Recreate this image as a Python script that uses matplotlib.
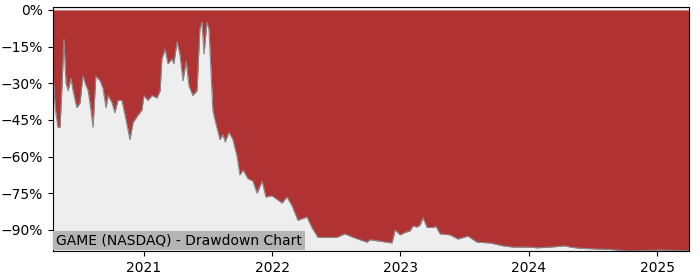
import numpy as np
import pandas as pd
import matplotlib
matplotlib.use("Agg")
import matplotlib.pyplot as plt
import matplotlib.dates as mdates
from matplotlib.ticker import PercentFormatter

# Drawdown readings (percent below running peak)
dates = [
    "2020-04-17", "2020-04-23", "2020-05-01", "2020-05-07", "2020-05-13", "2020-05-18",
    "2020-05-24", "2020-05-30", "2020-06-07", "2020-06-13", "2020-06-19", "2020-06-24",
    "2020-07-03", "2020-07-11", "2020-07-20", "2020-07-26", "2020-08-03", "2020-08-09",
    "2020-08-17", "2020-08-29", "2020-09-06", "2020-09-15", "2020-09-21", "2020-10-02",
    "2020-10-10", "2020-10-19", "2020-10-30", "2020-11-08", "2020-11-22", "2020-12-01",
    "2020-12-15", "2020-12-26", "2021-01-01", "2021-01-12", "2021-01-24", "2021-02-07",
    "2021-02-16", "2021-02-21", "2021-03-02", "2021-03-10", "2021-03-22", "2021-03-27",
    "2021-04-05", "2021-04-13", "2021-04-22", "2021-05-01", "2021-05-09", "2021-05-20",
    "2021-06-01", "2021-06-09", "2021-06-15", "2021-06-21", "2021-06-29", "2021-07-05",
    "2021-07-16", "2021-07-22", "2021-07-31", "2021-08-05", "2021-08-14", "2021-08-20",
    "2021-08-31", "2021-09-11", "2021-09-23", "2021-10-01", "2021-10-10", "2021-10-24",
    "2021-11-07", "2021-11-19", "2021-12-03", "2021-12-14", "2021-12-31", "2022-01-17",
    "2022-01-29", "2022-02-12", "2022-02-26", "2022-03-15", "2022-04-10", "2022-04-24",
    "2022-05-11", "2022-06-06", "2022-07-04", "2022-07-27", "2022-08-19", "2022-09-28",
    "2022-10-06", "2022-12-08", "2022-12-17", "2022-12-31", "2023-01-14", "2023-01-28",
    "2023-02-06", "2023-02-17", "2023-02-26", "2023-03-06", "2023-03-18", "2023-04-04",
    "2023-04-12", "2023-04-24", "2023-05-22", "2023-06-14", "2023-07-12", "2023-08-07",
    "2023-09-13", "2023-10-20", "2023-11-18", "2024-01-05", "2024-01-25", "2024-03-02",
    "2024-04-14", "2024-04-28", "2024-05-26", "2024-08-20", "2024-10-16", "2025-01-09",
    "2025-04-01",
]
drawdown = [
    -26, -40, -48, -48, -30, -12,
    -30, -33, -28, -33, -37, -40,
    -38, -27, -31, -33, -41, -48,
    -27, -29, -32, -40, -35, -38,
    -42, -37, -37, -43, -53, -46,
    -43, -41, -35, -37, -35, -36,
    -33, -20, -16, -22, -20, -22,
    -13, -18, -29, -21, -31, -35,
    -33, -8, -5, -18, -5, -8,
    -41, -45, -50, -53, -51, -54,
    -50, -53, -60, -67.5, -65.5, -69,
    -70, -75, -70, -76.5, -76, -77.7,
    -79, -76.5, -80, -86, -84.7, -89,
    -93, -93, -93, -91.6, -93, -95,
    -94, -95.3, -90, -92, -91, -90.4,
    -88.4, -88.8, -88, -85, -89, -89,
    -88.5, -91.6, -92, -93.7, -92.5, -95,
    -95.3, -96.5, -97, -97, -97.3, -97,
    -96.5, -97, -97.5, -98, -98.6, -98.2,
    -98.5,
]
year_ticks = ["2021", "2022", "2023", "2024", "2025"]
title = "GAME (NASDAQ) - Drawdown Chart"

x = pd.to_datetime(dates)
dd = np.array(drawdown)

fig = plt.figure(figsize=(7, 2.8), dpi=100)
ax = fig.add_axes([0.0757, 0.1036, 0.9083, 0.8714])
ax.set_facecolor("#eeeeee")

ax.fill_between(x, dd, 0, color="#b03232", linewidth=0)
ax.plot(x, dd, color="#888888", linewidth=0.8)

ax.set_xlim(x[0], x[-1])
ax.set_ylim(-98.6, 1.2)
ax.set_yticks(np.arange(0, -91, -15))
ax.yaxis.set_major_formatter(PercentFormatter(decimals=0))
ax.set_xticks(pd.to_datetime(year_ticks))
ax.xaxis.set_major_formatter(mdates.DateFormatter("%Y"))

ax.text(0.005, 0.015, title, transform=ax.transAxes, fontsize=10,
        ha="left", va="bottom",
        bbox=dict(facecolor="#b4b4b4", edgecolor="none", pad=2))

fig.savefig("out.png", dpi=100)
